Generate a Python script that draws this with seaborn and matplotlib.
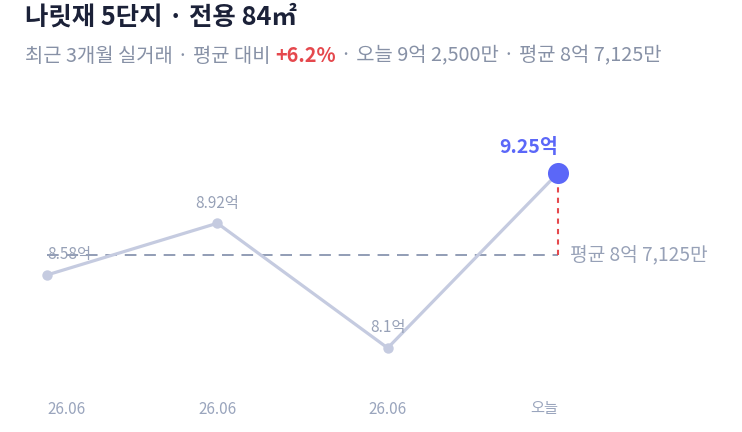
import matplotlib
matplotlib.use("Agg")
import matplotlib.pyplot as plt
import matplotlib.transforms as mtransforms
import seaborn as sns
import pandas as pd

# data
dates = ["26.06", "26.06", "26.06", "오늘"]
prices = [8.58, 8.92, 8.1, 9.25]          # 억
price_labels = ["8.58억", "8.92억", "8.1억", "9.25억"]
avg_price = 8.7125
avg_label = "평균 8억 7,125만"
title = "나릿재 5단지 · 전용 84㎡"
sub_parts = ["최근 3개월 실거래 · 평균 대비 ", "+6.2%", " · 오늘 9억 2,500만 · 평균 8억 7,125만"]

sns.set_theme(style="white")
plt.rcParams["font.family"] = ["Noto Sans CJK KR", "DejaVu Sans"]

LINE = "#c5cbe0"
HIGHLIGHT = "#5b67f8"
RED = "#e5484d"
GREY = "#97a1b7"
NAVY = "#1b2138"

fig = plt.figure(figsize=(7.42, 4.32), dpi=100)
ax = fig.add_axes([0, 0, 1, 1])
ax.set_xlim(-0.276, 4.080)
ax.set_ylim(7.548, 10.387)
ax.axis("off")

df = pd.DataFrame({"i": range(len(prices)), "price": prices})
sns.lineplot(data=df, x="i", y="price", color=LINE, linewidth=2.3, ax=ax,
             marker="o", markersize=7.5, markeredgewidth=0, markerfacecolor=LINE)

last = len(prices) - 1
# average line
ax.plot([0, last], [avg_price, avg_price], color="#929db5", lw=1.4,
        dashes=(6, 4), zorder=1)
ax.plot([last, last], [avg_price, prices[last]], color=RED, lw=1.5,
        dashes=(2.5, 2.5), zorder=2)
ax.scatter([last], [prices[last]], s=230, color=HIGHLIGHT, zorder=4, linewidths=0)

ax.annotate(avg_label, (last, avg_price), xytext=(8.5, 0), textcoords="offset points",
            ha="left", va="center", fontsize=13.8, color=GREY)

for i, (p, lab) in enumerate(zip(prices, price_labels)):
    if i == last:
        ax.annotate(lab, (i, p), xytext=(0, 18.5), textcoords="offset points",
                    ha="right", va="center", fontsize=14, color=HIGHLIGHT,
                    fontweight="bold")
    else:
        ha = "left" if i == 0 else "center"
        ax.annotate(lab, (i, p), xytext=(0, 14.5), textcoords="offset points",
                    ha=ha, va="center", fontsize=11, color=GREY)

# x labels
trans = mtransforms.blended_transform_factory(ax.transData, fig.transFigure)
for i, d in enumerate(dates):
    ha = "left" if i == 0 else ("right" if i == last else "center")
    ax.text(i, 1 - 409 / 432, d, transform=trans, ha=ha, va="center",
            fontsize=11, color="#9aa5bd")

# title and subtitle
fig.text(25 / 742, 1 - 17 / 432, title, ha="left", va="center",
         fontsize=18.3, fontweight="bold", color=NAVY)
t = fig.text(25 / 742, 1 - 56 / 432, sub_parts[0], ha="left", va="center",
             fontsize=14.3, color="#8791a6")
t = ax.annotate(sub_parts[1], xy=(1, 0), xycoords=t, ha="left", va="bottom",
                fontsize=14.3, color=RED, fontweight="bold")
ax.annotate(sub_parts[2], xy=(1, 0), xycoords=t, ha="left", va="bottom",
            fontsize=14.3, color="#8791a6")

fig.savefig("out.png", dpi=100)
